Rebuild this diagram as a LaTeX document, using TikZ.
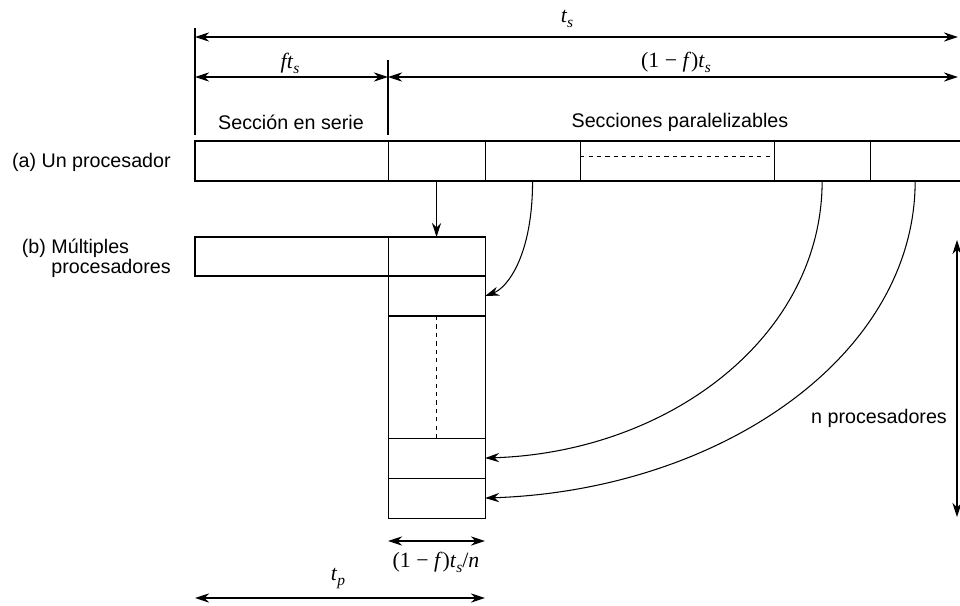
\documentclass[tikz,border=0pt]{standalone}
\usepackage{fontspec}
\setmainfont{Liberation Sans}
\newfontfamily\timesfont{Liberation Serif}
\usetikzlibrary{positioning, arrows.meta}

% italic symbol with a lowered subscript, Times-like
\newcommand{\tsym}[2]{\textit{#1}\raisebox{-0.5ex}{\fontsize{11}{11}\selectfont\itshape #2}}

\tikzset{
  cell/.style={draw, line width=0.75pt, inner sep=0pt, outer sep=0pt, minimum height=1cm},
  dim/.style={line width=0.75pt, {Stealth[length=10pt,width=6.5pt]}-{Stealth[length=10pt,width=6.5pt]}},
  flow/.style={line width=0.75pt, -{Stealth[length=10pt,width=6.5pt]}},
  lbl/.style={font=\fontsize{14}{14.2}\selectfont, inner sep=0pt},
  mlbl/.style={font=\timesfont\fontsize{15.5}{17}\selectfont, inner sep=0pt}
}

\begin{document}
\begin{tikzpicture}[x=0.025cm, y=-0.025cm]
\useasboundingbox (0,0) rectangle (960,605);

% (a) one processor
\node[cell, minimum width=4.825cm] (a0) at (291.5,161) {};
\node[cell, minimum width=2.425cm, right=0pt of a0] (a1) {};
\node[cell, minimum width=2.375cm, right=0pt of a1] (a2) {};
\node[cell, minimum width=4.85cm, right=0pt of a2] (a3) {};
\node[cell, minimum width=2.4cm, right=0pt of a3] (a4) {};
\node[inner sep=0pt, outer sep=0pt, minimum height=1cm, minimum width=2.25cm, right=0pt of a4] (a5) {};
\draw[line width=0.75pt] (a5.north west) -- (a5.north east) (a5.south west) -- (a5.south east);
\draw[dashed, line width=0.5pt] ([yshift=3pt]a3.west) -- ([yshift=3pt]a3.east);

% (b) n processors
\node[cell, minimum width=4.825cm, minimum height=0.975cm] (b0) at (291.5,256.5) {};
\node[cell, minimum width=2.425cm, minimum height=0.975cm, right=0pt of b0] (b1) {};
\node[cell, minimum width=2.425cm, below=0pt of b1] (b2) {};
\node[cell, minimum width=2.425cm, minimum height=3.05cm, below=0pt of b2] (b3) {};
\node[cell, minimum width=2.425cm, below=0pt of b3] (b4) {};
\node[cell, minimum width=2.425cm, below=0pt of b4] (b5) {};
\draw[dashed, line width=0.5pt] (b3.north) -- (b3.south);

% moving the parallel parts
\draw[flow] (a1.south) -- (b1.north);
\draw[flow] (a2.south) .. controls +(0,75) and +(22,-8) .. (b2.east);
\draw[flow] (a4.south) .. controls +(0,155) and +(185,-6) .. (b4.east);
\draw[flow] (a5.south) .. controls +(0,175) and +(235,-8) .. (b5.east);

% time spans on top
\draw[line width=0.75pt] (195,28) -- (195,135);
\draw[line width=0.75pt] (388,60) -- (388,135);
\coordinate (tsL) at (195,37);
\coordinate (tsR) at (958,37);
\coordinate (ftL) at (195,77);
\coordinate (ftM) at (388,77);
\coordinate (ftR) at (958,77);
\draw[dim] (tsL) -- (tsR);
\draw[dim] (ftL) -- (ftM);
\draw[dim] (ftM) -- (ftR);
\node[mlbl] (ts) at (567,19) {\tsym{t}{s}};
\node[mlbl] (fts) at (290,63) {\tsym{ft}{s}};
\node[mlbl] (rts) at (676,62) {(1 − \textit{f})\tsym{t}{s}};
\node[lbl] (serie) at (291,122) {Sección en serie};
\node[lbl] (par) at (680,122) {Secciones paralelizables};

% row labels
\node[lbl, anchor=east] (la) at (171,162) {(a) Un procesador};
\node[lbl, anchor=east, align=left] (lb) at (171,258) {(b) Múltiples\\\phantom{(b) }procesadores};

% spans at the bottom and right
\coordinate (wL) at (388,541);
\coordinate (wR) at (485,541);
\coordinate (tpL) at (195,598);
\coordinate (tpR) at (485,598);
\coordinate (nT) at (957,240);
\coordinate (nB) at (957,517);
\draw[dim] (wL) -- (wR);
\draw[dim] (tpL) -- (tpR);
\draw[dim] (nT) -- (nB);
\node[mlbl] (w) at (436,562) {(1 − \textit{f})\tsym{t}{s}/\textit{n}};
\node[mlbl] (tp) at (338,579) {\tsym{t}{p}};
\node[lbl] (np) at (879,418) {n procesadores};

\end{tikzpicture}
\end{document}
